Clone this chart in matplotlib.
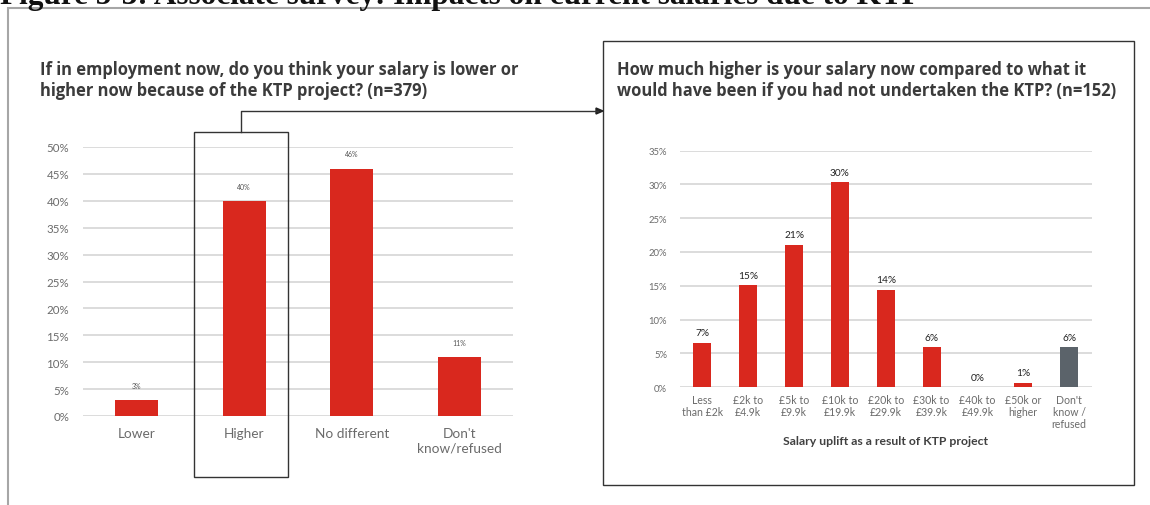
import matplotlib
matplotlib.use("Agg")
import matplotlib.pyplot as plt
from matplotlib.lines import Line2D
from matplotlib.patches import Rectangle, Polygon
from matplotlib.ticker import MultipleLocator, FuncFormatter

# ---- data -------------------------------------------------------------
change_categories = ["Lower", "Higher", "No different", "Don't\nknow/refused"]
change_values = [3.0, 40.0, 46.0, 11.0]

uplift_categories = ["Less\nthan £2k", "£2k to\n£4.9k", "£5k to\n£9.9k", "£10k to\n£19.9k",
                     "£20k to\n£29.9k", "£30k to\n£39.9k", "£40k to\n£49.9k", "£50k or\nhigher",
                     "Don't\nknow /\nrefused"]
uplift_values = [6.6, 15.1, 21.1, 30.3, 14.4, 5.9, 0.0, 0.7, 5.9]

figure_title = "Figure 5-3: Associate survey: Impacts on current salaries due to KTP"
left_title = ("If in employment now, do you think your salary is lower or\n"
              "higher now because of the KTP project? (n=379)")
right_title = ("How much higher is your salary now compared to what it\n"
               "would have been if you had not undertaken the KTP? (n=152)")
uplift_xlabel = "Salary uplift as a result of KTP project"

# ---- style ------------------------------------------------------------
RED = "#d9281e"
SLATE = "#5b636a"
GRID = "#d9d9d9"
TICK = "#6b6b6b"
TITLE = "#3b3b3b"
FONT = "Lato"
HEAD_FONT = "Open Sans"

W, H = 1150, 506
fig = plt.figure(figsize=(W / 100, H / 100), dpi=100)
fig.patch.set_facecolor("white")


def fx(x):
    return x / W


def fy(y):
    return 1 - y / H


def pct(v, _):
    return f"{v:.0f}%"


def style_axes(ax, top, step, tick_size, pad_y, pad_x, cat_size):
    ax.set_ylim(0, top)
    ax.yaxis.set_major_locator(MultipleLocator(step))
    ax.yaxis.set_major_formatter(FuncFormatter(pct))
    ax.grid(axis="y", color=GRID, linewidth=1.3)
    ax.set_axisbelow(True)
    for s in ax.spines.values():
        s.set_visible(False)
    ax.tick_params(axis="y", length=0, pad=pad_y, labelsize=tick_size, labelcolor=TICK)
    ax.tick_params(axis="x", length=0, pad=pad_x, labelsize=cat_size, labelcolor=TICK)
    for lab in ax.get_yticklabels() + ax.get_xticklabels():
        lab.set_fontfamily(FONT)


# ---- left chart -------------------------------------------------------
axL = fig.add_axes([fx(83), fy(417), (513 - 83) / W, (417 - 148) / H])
xl = range(len(change_categories))
axL.bar(xl, change_values, width=0.4, color=RED, zorder=3)
axL.set_xlim(-0.5, len(change_categories) - 0.5)
axL.set_xticks(list(xl))
axL.set_xticklabels(change_categories, linespacing=1.25)
style_axes(axL, 50, 5, 8.3, 10, 8, 9.8)
for x, v in zip(xl, change_values):
    axL.annotate(f"{v:.0f}%", (x, v), xytext=(0, 8), textcoords="offset points",
                 ha="center", va="bottom", fontsize=5, color="#555555", family=FONT)

# ---- right chart ------------------------------------------------------
axR = fig.add_axes([fx(679.5), fy(388.3), (1092 - 679.5) / W, (388.3 - 151.5) / H])
xr = range(len(uplift_categories))
colors = [RED] * (len(uplift_values) - 1) + [SLATE]
axR.bar(xr, uplift_values, width=0.39, color=colors, zorder=3)
axR.set_xlim(-0.5, len(uplift_categories) - 0.5)
axR.set_xticks(list(xr))
axR.set_xticklabels(uplift_categories, linespacing=1.1)
style_axes(axR, 35, 5, 6.8, 9, 5, 7.6)
for x, v in zip(xr, uplift_values):
    axR.annotate(f"{v:.0f}%", (x, v), xytext=(0, 4), textcoords="offset points",
                 ha="center", va="bottom", fontsize=7.3, color="#222222", family=FONT)
axR.set_xlabel(uplift_xlabel, fontsize=8.8, fontweight="bold", color="#404040",
               family=FONT, labelpad=4)

# ---- titles -----------------------------------------------------------
fig.text(fx(0), fy(4), figure_title, ha="left", va="baseline", fontsize=22.5,
         fontweight="bold", family="Liberation Serif", color="#111111")
fig.text(fx(40), fy(61), left_title, ha="left", va="top", fontsize=11.9,
         fontweight="bold", family=HEAD_FONT, color=TITLE, linespacing=1.22)
fig.text(fx(617), fy(61), right_title, ha="left", va="top", fontsize=11.9,
         fontweight="bold", family=HEAD_FONT, color=TITLE, linespacing=1.22)

# ---- frames and connector ---------------------------------------------
def px_line(xs, ys, **kw):
    fig.add_artist(Line2D([fx(x) for x in xs], [fy(y) for y in ys],
                          transform=fig.transFigure, **kw))


px_line([8, 8, W], [H, 9, 9], color="#a6a6a6", linewidth=1.5, solid_joinstyle="miter")


def px_rect(x0, y0, x1, y1, **kw):
    fig.add_artist(Rectangle((fx(x0), fy(y1)), fx(x1) - fx(x0), fy(y0) - fy(y1),
                             transform=fig.transFigure, fill=False, **kw))


px_rect(603, 42, 1134, 486, edgecolor="#333333", linewidth=1.0)
px_rect(194, 133, 288, 478, edgecolor="#333333", linewidth=1.0)

px_line([241, 241, 598], [133, 112, 112], color="#333333", linewidth=1.0)
fig.add_artist(Polygon([(fx(596), fy(109)), (fx(603), fy(112)), (fx(596), fy(115))],
                       closed=True, transform=fig.transFigure, color="#222222"))

fig.savefig("out.png", dpi=100, facecolor="white")
